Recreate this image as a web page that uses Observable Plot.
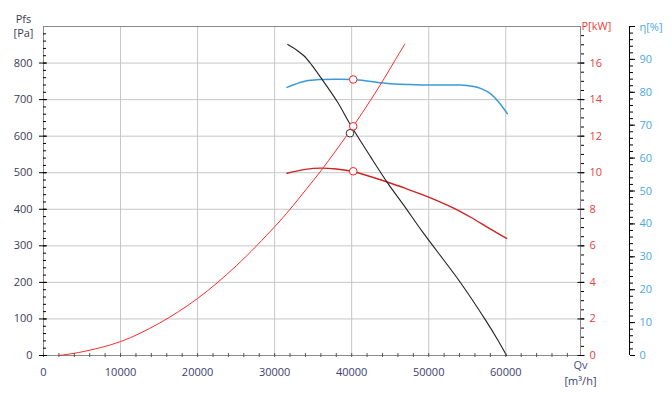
<!DOCTYPE html>
<html><head><meta charset="utf-8">
<script src="https://cdn.jsdelivr.net/npm/d3@7"></script>
<script src="https://cdn.jsdelivr.net/npm/@observablehq/plot@0.6"></script>
<style>body{margin:0;background:#fff}</style>
</head><body><div id="chart"></div>
<script>
// Fan curve: static pressure Pfs [Pa] vs Qv [m3/h]
const qPfs = [31700, 32700, 33800, 34800, 36000, 38200, 39700, 42500, 44700, 46800, 49200, 54200, 57400, 59000, 60100];
const pfs  = [851,   838,   820,   795,   760,   692,   636,   542,   471,   410,   338,   197,   96,    41,    0];
// System curve [Pa]
const qSys = [2000, 5000, 10000, 15000, 20000, 25000, 30000, 32000, 34000, 36000, 38000, 40300, 42500, 44200, 45500, 46900];
const pSys = [0,    10,   38,    88,    156,   245,   352,   400,   452,   505,   562,   630,   700,   757,   803,   852];
// Shaft power [kW]
const qPow = [31600, 34000, 36000, 38000, 40300, 42500, 44700, 47000, 49000, 51000, 53300, 55500, 57700, 60100];
const pKW  = [9.97,  10.18, 10.25, 10.2,  10.05, 9.78,  9.48,  9.14,  8.83,  8.49,  8.05,  7.55,  7.0,   6.41];
// Efficiency [%]
const qEta = [31600, 33800, 36000, 38000, 40300, 42500, 44700, 47000, 49000, 52000, 54200, 56000, 56800, 58000, 59100, 60200];
const eta  = [81.5,  83.3,  83.9,  84.0,  83.9,  83.3,  82.7,  82.4,  82.2,  82.2,  82.2,  81.7,  81.1,  79.6,  77.0,  73.5];
// Operating point
const opQ = 40200, opSysPa = 627, opPowKW = 10.08, opEta = 83.9;
const opFanQ = 39780, opFanPa = 608;

// Ticks
const xTicks = [0, 10000, 20000, 30000, 40000, 50000, 60000];
const xMinor = d3.range(0, 70000, 2000);
const yTicks = [0, 100, 200, 300, 400, 500, 600, 700, 800];
const yMinor = d3.range(0, 900, 20);
const pTicks = [0, 2, 4, 6, 8, 10, 12, 14, 16];
const pMinor = d3.range(0, 18, 0.5);
const etaTicks = [0, 10, 20, 30, 40, 50, 60, 70, 80, 90, 100];
const etaMinor = d3.range(0, 100, 2);

// Axis ratios: 900 Pa = 18 kW = 100 %
const KW = 50, ETA = 9;

const sysData = qSys.map((q, i) => ({q, v: pSys[i]}));
const fanData = qPfs.map((q, i) => ({q, v: pfs[i]}));
const powData = qPow.map((q, i) => ({q, v: pKW[i] * KW}));
const etaData = qEta.map((q, i) => ({q, v: eta[i] * ETA}));
const redPts = [{q: opQ, v: opEta * ETA}, {q: opQ, v: opSysPa}, {q: opQ, v: opPowKW * KW}];
const blackPts = [{q: opFanQ, v: opFanPa}];

const navy = "#3d3d6e", grey = "#3b3b55", red = "#e8403a", blue = "#4aa8de";

const chart = Plot.plot({
  width: 672, height: 401,
  marginLeft: 43, marginRight: 92, marginTop: 26, marginBottom: 46,
  style: {fontFamily: "'Open Sans', sans-serif", fontSize: "11px", background: "#fff", color: "#000"},
  x: {domain: [0, 69700]},
  y: {domain: [0, 900]},
  marks: [
    Plot.gridX(xTicks.filter(d => d > 0), {stroke: "#c6c6c6", strokeOpacity: 1}),
    Plot.gridY(yTicks.filter(d => d > 0), {stroke: "#c6c6c6", strokeOpacity: 1}),
    Plot.frame({stroke: "#8a8a8a"}),
    Plot.line(etaData, {x: "q", y: "v", stroke: "#3a9ad9", strokeWidth: 1.5, curve: "catmull-rom"}),
    Plot.line(powData, {x: "q", y: "v", stroke: "#d02222", strokeWidth: 1.4, curve: "catmull-rom"}),
    Plot.line(sysData, {x: "q", y: "v", stroke: "#ff2a2a", strokeWidth: 1, curve: "catmull-rom"}),
    Plot.line(fanData, {x: "q", y: "v", stroke: "#222", strokeWidth: 1.1, curve: "catmull-rom"}),
    Plot.dot(blackPts, {x: "q", y: "v", r: 3.8, stroke: "#333", fill: "white", strokeWidth: 1}),
    Plot.dot(redPts, {x: "q", y: "v", r: 3.8, stroke: "#ff2020", fill: "white", strokeWidth: 1}),
    // x axis
    Plot.axisX(xMinor, {tickSize: 4, dy: -2, fill: "none", stroke: "#555", label: null}),
    Plot.axisX(xTicks, {tickSize: 0, tickPadding: 13, stroke: "none", fill: navy, tickFormat: d => String(d), label: null}),
    // left Pfs axis
    Plot.axisY(yMinor, {tickSize: 3, dx: 3, fill: "none", stroke: "#000", label: null}),
    Plot.axisY(yTicks, {tickSize: 8, dx: 4, fill: "none", stroke: "#000", label: null}),
    Plot.axisY(yTicks, {tickSize: 0, tickPadding: 11, stroke: "none", fill: grey, tickFormat: d => String(d), label: null}),
    // right P axis
    Plot.axisY(pMinor.map(v => v * KW), {anchor: "right", tickSize: 3, fill: "none", stroke: "#000", label: null}),
    Plot.axisY(pTicks.map(v => v * KW), {anchor: "right", tickSize: 7, dx: -3.5, fill: "none", stroke: "#000", label: null}),
    Plot.axisY(pTicks.map(v => v * KW), {anchor: "right", tickSize: 0, tickPadding: 9, stroke: "none", fill: red, tickFormat: d => String(d / KW), label: null}),
    // eta axis
    Plot.ruleX([0], {dx: 586, stroke: "#000"}),
    Plot.axisY(etaMinor.map(v => v * ETA), {anchor: "right", tickSize: 3, dx: 49, fill: "none", stroke: "#000", label: null}),
    Plot.axisY(etaTicks.map(v => v * ETA), {anchor: "right", tickSize: 5, dx: 49, fill: "none", stroke: "#000", label: null}),
    Plot.axisY(etaTicks.filter(v => v < 100).map(v => v * ETA), {anchor: "right", tickSize: 0, tickPadding: 10, dx: 49, stroke: "none", fill: blue, tickFormat: d => String(Math.round(d / ETA)), label: null}),
    // titles
    Plot.text(["Pfs"], {frameAnchor: "top-left", dx: -20, dy: -7, textAnchor: "middle", lineAnchor: "middle", fill: grey}),
    Plot.text(["[Pa]"], {frameAnchor: "top-left", dx: -20, dy: 7, textAnchor: "middle", lineAnchor: "middle", fill: grey}),
    Plot.text(["P[kW]"], {frameAnchor: "top-right", dx: 1, dy: 0, textAnchor: "start", lineAnchor: "middle", fill: red}),
    Plot.text(["η[%]"], {frameAnchor: "top-right", dx: 59, dy: 1, textAnchor: "start", lineAnchor: "middle", fill: blue}),
    Plot.text(["Qv"], {frameAnchor: "bottom-right", dy: 10, textAnchor: "middle", lineAnchor: "middle", fill: "#4a4a90"}),
    Plot.text(["[m³/h]"], {frameAnchor: "bottom-right", dy: 26, textAnchor: "middle", lineAnchor: "middle", fill: navy})
  ]
});
document.getElementById("chart").appendChild(chart);
</script>
</body></html>
